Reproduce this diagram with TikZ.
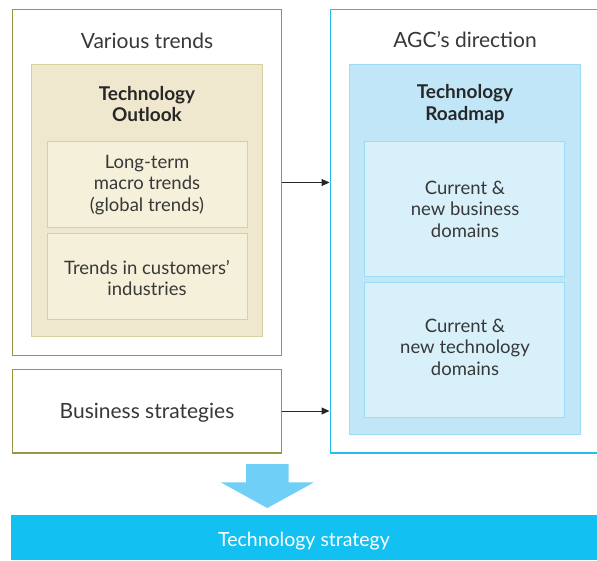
\documentclass[tikz,border=0pt]{standalone}
\usepackage{fontspec}
\setmainfont{Lato}
\usetikzlibrary{arrows.meta}
\definecolor{olive}{HTML}{9A9640}
\definecolor{tanfill}{HTML}{EFE8CE}
\definecolor{tanline}{HTML}{D9D09E}
\definecolor{tansub}{HTML}{F4F0DA}
\definecolor{cyanline}{HTML}{22BEEE}
\definecolor{bluefill}{HTML}{C0E6F8}
\definecolor{blueline}{HTML}{9EDCF6}
\definecolor{bluesub}{HTML}{D8F0FA}
\definecolor{bigarrow}{HTML}{70CFF6}
\definecolor{barfill}{HTML}{12C0F2}
\definecolor{txt}{HTML}{383838}
\tikzset{
  outerL/.style={draw=olive, line width=1.3pt, fill=white},
  outerR/.style={draw=cyanline, line width=1.3pt, fill=white},
  tanbox/.style={draw=tanline, line width=0.8pt, fill=tanfill},
  tansubbox/.style={draw=tanline, line width=0.8pt, fill=tansub},
  bluebox/.style={draw=blueline, line width=0.8pt, fill=bluefill},
  bluesubbox/.style={draw=blueline, line width=0.8pt, fill=bluesub},
  title/.style={text=txt, font=\fontsize{21}{24}\selectfont, inner sep=0pt},
  bodytxt/.style={text=txt, font=\fontsize{18.5}{21.5}\selectfont, align=center, inner sep=0pt},
  boldtxt/.style={text=txt!70!black, font=\fontsize{19}{21.5}\selectfont\bfseries, align=center, inner sep=0pt},
  conn/.style={draw=black!85, line width=1pt, -{Triangle[length=8pt,width=7pt]}},
}
\begin{document}
\begin{tikzpicture}[x=1pt,y=-1pt]
\useasboundingbox (0,0) rectangle (597,560);
% left column
\draw[outerL] (12.5,9.5) rectangle (281.5,355.5);
\coordinate (trendsE) at (281.5,182.5);
\draw[tanbox] (31.5,64.5) rectangle (262.5,336);
\draw[tansubbox] (47.5,141.5) rectangle (247.5,227.5);
\draw[tansubbox] (47.5,233.5) rectangle (247.5,319.5);
\node[title] (vt) at (147,41) {Various trends};
\node[boldtxt] (to) at (147,104) {Technology\\Outlook};
\node[bodytxt] (lt) at (147,185) {Long-term\\macro trends\\(global trends)};
\node[bodytxt] (tc) at (147,278) {Trends in customers’\\industries};
% business strategies
\draw[outerL] (12.5,369.5) rectangle (281.5,453) ;
\node[title] (bs) at (147,413) {Business strategies};
\coordinate (bsE) at (281.5,411);
% right column
\draw[outerR] (330.5,9.5) rectangle (600,453);
\draw[bluebox] (349,64.5) rectangle (580,434.5);
\draw[bluesubbox] (364.5,141.5) rectangle (564.5,276.5);
\draw[bluesubbox] (364.5,282.5) rectangle (564.5,417.5);
\node[title] (agc) at (465,40) {AGC’s direction};
\node[boldtxt] (tr) at (465,104) {Technology\\Roadmap};
\node[bodytxt] (cb) at (465,209) {Current \&\\new business\\domains};
\node[bodytxt] (ct) at (465,347) {Current \&\\new technology\\domains};
\coordinate (rE1) at (329.5,182.5);
\coordinate (rE2) at (329.5,411);
\draw[conn] (trendsE) -- (rE1);
\draw[conn] (bsE) -- (rE2);
% big arrow
\fill[bigarrow] (246,464) -- (288.7,464) -- (288.7,482.3) -- (314,482.3) -- (267.3,508) -- (220.7,482.3) -- (246,482.3) -- cycle;
% bottom bar
\fill[barfill] (11.3,515) rectangle (597,560);
\node[text=white, inner sep=0pt, font=\fontsize{19.5}{22}\selectfont] (ts) at (304,541) {Technology strategy};
\end{tikzpicture}
\end{document}
